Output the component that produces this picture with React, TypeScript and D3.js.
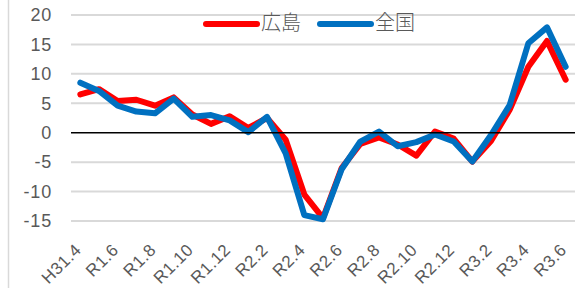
import { useEffect, useRef } from "react";
import * as d3 from "d3";

const months = [
  "H31.4", "R1.5", "R1.6", "R1.7", "R1.8", "R1.9", "R1.10", "R1.11", "R1.12",
  "R2.1", "R2.2", "R2.3", "R2.4", "R2.5", "R2.6", "R2.7", "R2.8", "R2.9",
  "R2.10", "R2.11", "R2.12", "R3.1", "R3.2", "R3.3", "R3.4", "R3.5", "R3.6",
];
const hiroshima = [
  6.5, 7.4, 5.4, 5.6, 4.6, 6.0, 3.1, 1.5, 2.8, 0.8, 2.5, -1.2, -10.5, -14.5,
  -6.0, -1.9, -0.8, -2.0, -3.9, 0.2, -1.0, -4.9, -1.4, 3.9, 11.2, 15.6, 9.0,
];
const zenkoku = [
  8.5, 7.1, 4.6, 3.6, 3.3, 5.8, 2.7, 3.0, 2.1, 0.1, 2.7, -3.5, -14.0, -14.7,
  -6.2, -1.5, 0.2, -2.3, -1.6, -0.3, -1.5, -4.9, -0.4, 4.7, 15.2, 17.9, 11.2,
];
const yTicks = [-15, -10, -5, 0, 5, 10, 15, 20];
const seriesNames = ["広島", "全国"];

export default function App() {
  const svgRef = useRef<SVGSVGElement>(null);
  const W = 582;
  const H = 288;

  useEffect(() => {
    if (!svgRef.current) return;
    const svg = d3.select(svgRef.current);
    svg.selectAll("*").remove();

    const left = 71, right = 575, top = 15, bottom = 221;
    const x = d3.scaleBand<string>().domain(months).range([left, right]);
    const y = d3.scaleLinear().domain([-15, 20]).range([bottom, top]);
    const cx = (m: string) => (x(m) ?? 0) + x.bandwidth() / 2;
    const font = "'Liberation Sans', Arial, sans-serif";
    const cjk = "'Noto Sans CJK JP', sans-serif";

    // frame edge
    svg.append("line").attr("x1", 8.5).attr("x2", 8.5).attr("y1", 0).attr("y2", H)
      .attr("stroke", "#d9d9d9").attr("stroke-width", 1.5);

    // grid
    svg.append("g").selectAll("line").data(yTicks.filter((t) => t !== 0)).join("line")
      .attr("x1", left).attr("x2", right)
      .attr("y1", (d) => y(d)).attr("y2", (d) => y(d))
      .attr("stroke", "#d9d9d9").attr("stroke-width", 2);

    svg.append("g").selectAll("text").data(yTicks).join("text")
      .attr("x", 52).attr("y", (d) => y(d))
      .attr("dy", "0.35em").attr("text-anchor", "end")
      .attr("font-family", font).attr("font-size", 18).attr("letter-spacing", 0.8)
      .attr("fill", "#595959")
      .text((d) => d);

    const colors = ["#ff0000", "#0070c0"];
    const line = d3.line<number>().x((_, i) => cx(months[i])).y((d) => y(d));
    [hiroshima, zenkoku].forEach((s, k) => {
      svg.append("path").datum(s).attr("d", line).attr("fill", "none")
        .attr("stroke", colors[k]).attr("stroke-width", 6)
        .attr("stroke-linejoin", "round").attr("stroke-linecap", "round");
    });

    // zero axis on top
    svg.append("line").attr("x1", left).attr("x2", right)
      .attr("y1", y(0)).attr("y2", y(0)).attr("stroke", "#000").attr("stroke-width", 1.5);

    // x labels
    svg.append("g").selectAll("text").data(months.filter((_, i) => i % 2 === 0)).join("text")
      .attr("transform", (m) => `translate(${cx(m) + 2},${251}) rotate(-45)`)
      .attr("text-anchor", "end")
      .attr("font-family", font).attr("font-size", 17).attr("letter-spacing", 0.5)
      .attr("fill", "#595959")
      .text((m) => m);

    // legend
    const lg = svg.append("g");
    const lx = [206, 320];
    seriesNames.forEach((n, k) => {
      lg.append("line").attr("x1", lx[k]).attr("x2", lx[k] + 51).attr("y1", 24).attr("y2", 24)
        .attr("stroke", colors[k]).attr("stroke-width", 6).attr("stroke-linecap", "round");
      lg.append("text").attr("x", lx[k] + 55).attr("y", 23).attr("dy", "0.36em")
        .attr("font-family", cjk).attr("font-size", 20).attr("font-weight", 300)
        .attr("fill", "#595959").text(n);
    });
  }, []);

  return <svg ref={svgRef} width={W} height={H} style={{ position: "absolute", left: 0, top: 0 }} />;
}
